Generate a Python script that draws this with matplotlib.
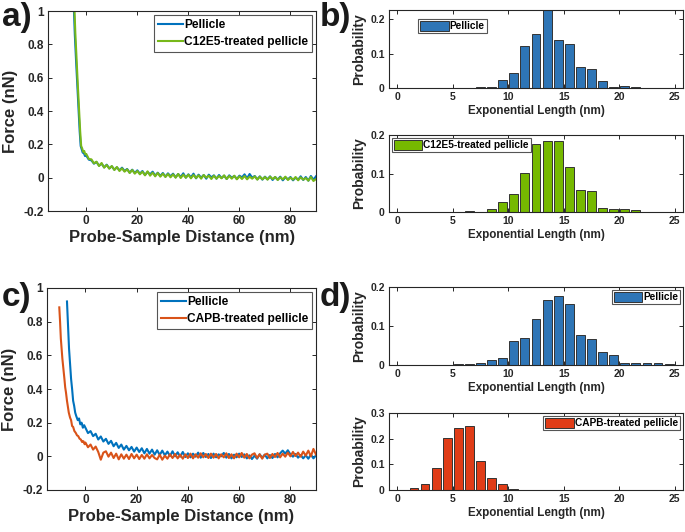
import numpy as np
import matplotlib
matplotlib.use('Agg')
import matplotlib.pyplot as plt

plt.rcParams['font.family'] = ['Liberation Sans', 'DejaVu Sans']
plt.rcParams['font.weight'] = 'bold'

# ---- force curves, panel a ----
xa_steep = [-4.9, -4.5, -4.0, -3.5, -3.0, -2.6, -2.2, -1.8, -1.4, -1.0, -0.5]
ya_pel_steep = [1.03, 0.86, 0.70, 0.55, 0.40, 0.28, 0.19, 0.17, 0.15, 0.15, 0.13]
xg_steep = [-4.7, -4.3, -3.8, -3.3, -2.8, -2.4, -2.0, -1.6, -1.2, -0.8, -0.4]
ya_c12_steep = [1.04, 0.87, 0.71, 0.55, 0.40, 0.28, 0.19, 0.175, 0.155, 0.16, 0.14]
x_flat = np.arange(0, 91)
ya_pel = [0.132, 0.108, 0.104, 0.084, 0.094, 0.072, 0.084, 0.062, 0.078, 0.056,
          0.068, 0.048, 0.062, 0.044, 0.060, 0.040, 0.052, 0.030, 0.048, 0.028,
          0.044, 0.024, 0.040, 0.016, 0.034, 0.020, 0.036, 0.012, 0.030, 0.010,
          0.028, 0.006, 0.026, 0.008, 0.024, 0.002, 0.022, 0.004, 0.026, 0.000,
          0.020, 0.002, 0.024, -0.004, 0.018, 0.000, 0.016, -0.006, 0.018, 0.002,
          0.014, -0.006, 0.016, -0.002, 0.012, -0.008, 0.014, 0.000, 0.010, -0.008,
          0.012, 0.002, 0.020, -0.004, 0.022, 0.000, 0.010, -0.010, 0.008, -0.012,
          0.006, -0.010, 0.008, -0.014, 0.004, -0.012, 0.006, -0.016, 0.002, -0.010,
          0.004, -0.016, 0.000, -0.012, 0.008, -0.014, 0.004, -0.018, 0.010, -0.012,
          0.008]
ya_c12 = [0.142, 0.112, 0.110, 0.086, 0.096, 0.070, 0.088, 0.060, 0.076, 0.054,
          0.070, 0.046, 0.064, 0.040, 0.056, 0.036, 0.050, 0.028, 0.046, 0.024,
          0.040, 0.020, 0.036, 0.014, 0.038, 0.012, 0.030, 0.008, 0.028, 0.006,
          0.024, 0.004, 0.022, 0.002, 0.020, 0.000, 0.022, -0.002, 0.018, 0.000,
          0.018, -0.004, 0.016, -0.002, 0.014, -0.006, 0.016, 0.000, 0.012, -0.008,
          0.012, -0.006, 0.010, -0.004, 0.014, -0.008, 0.010, -0.006, 0.012, -0.010,
          0.008, -0.008, 0.010, -0.010, 0.006, -0.006, 0.008, -0.012, 0.006, -0.010,
          0.004, -0.012, 0.006, -0.008, 0.004, -0.014, 0.002, -0.010, 0.006, -0.014,
          0.000, -0.012, 0.004, -0.016, 0.002, -0.012, -0.002, -0.018, 0.004, -0.020,
          -0.008]

# ---- force curves, panel c ----
xc_pel_steep = [-7.2, -6.8, -6.4, -6.0, -5.6, -5.2, -4.8, -4.4, -4.0, -3.6,
                -3.0, -2.5, -2.0, -1.5, -1.0, -0.5]
yc_pel_steep = [0.92, 0.78, 0.64, 0.55, 0.46, 0.40, 0.33, 0.30, 0.26, 0.24,
                0.215, 0.225, 0.19, 0.20, 0.17, 0.185]
yc_pel = [0.170, 0.138, 0.150, 0.120, 0.134, 0.100, 0.118, 0.088, 0.104, 0.074,
          0.092, 0.060, 0.080, 0.050, 0.070, 0.040, 0.062, 0.036, 0.056, 0.028,
          0.052, 0.026, 0.048, 0.018, 0.044, 0.016, 0.040, 0.010, 0.036, 0.008,
          0.034, 0.006, 0.028, 0.002, 0.030, 0.000, 0.024, -0.002, 0.026, -0.004,
          0.018, -0.006, 0.016, -0.002, 0.022, -0.008, 0.020, -0.004, 0.014, -0.010,
          0.016, -0.006, 0.012, 0.000, 0.020, -0.008, 0.014, -0.012, 0.010, -0.006,
          0.016, -0.004, 0.012, -0.012, 0.006, -0.016, 0.004, -0.014, 0.012, -0.008,
          0.010, -0.012, 0.008, -0.010, 0.014, -0.006, 0.018, 0.034, 0.016, 0.036,
          0.012, -0.002, 0.014, -0.008, 0.008, -0.012, 0.006, -0.014, 0.010, -0.012,
          0.006]
xc_capb_steep = [-10.2, -9.9, -9.6, -9.3, -9.0, -8.6, -8.2, -7.9, -7.6, -7.2,
                 -6.9, -6.5, -6.0, -5.6, -5.2, -4.8, -4.3, -3.8, -3.3, -2.8,
                 -2.3, -1.8, -1.3, -0.8, -0.3]
yc_capb_steep = [0.885, 0.80, 0.70, 0.64, 0.58, 0.52, 0.46, 0.41, 0.38, 0.33,
                 0.30, 0.26, 0.23, 0.215, 0.18, 0.175, 0.15, 0.14, 0.125, 0.12,
                 0.105, 0.10, 0.085, 0.09, 0.072]
yc_capb = [0.082, 0.054, 0.070, 0.040, 0.058, 0.026, -0.020, 0.022, 0.030, -0.002,
           0.022, -0.010, 0.016, -0.018, 0.012, -0.014, 0.010, -0.016, 0.014, -0.012,
           0.010, -0.016, 0.008, -0.014, 0.012, -0.012, 0.008, -0.010, -0.018, 0.010,
           -0.020, 0.004, -0.014, 0.012, -0.010, 0.014, -0.012, 0.010, -0.014, 0.012,
           -0.010, 0.016, -0.012, 0.012, -0.008, 0.018, -0.006, 0.014, -0.010, 0.016,
           -0.008, 0.014, -0.012, 0.012, -0.006, 0.018, -0.010, 0.012, -0.012, 0.016,
           -0.006, 0.020, -0.008, 0.014, -0.012, 0.010, 0.018, -0.010, 0.012, -0.014,
           0.010, 0.016, -0.010, 0.014, -0.004, 0.020, -0.006, 0.016, -0.002, 0.022,
           0.000, 0.026, 0.002, 0.022, -0.002, 0.028, 0.004, 0.034, 0.000, 0.044,
           0.010]

# ---- histograms ----
b_pel_x = [7.5, 8.5, 9.5, 10.5, 11.5, 12.5, 13.5, 14.5, 15.5, 16.5, 17.5,
           18.5, 19.5, 20.5, 21.5]
b_pel_p = [0.003, 0.003, 0.023, 0.0425, 0.121, 0.157, 0.227, 0.140, 0.129,
           0.061, 0.054, 0.019, 0.003, 0.007, 0.003]
b_c12_x = [6.5, 8.5, 9.5, 10.5, 11.5, 12.5, 13.5, 14.5, 15.5, 16.5, 17.5,
           18.5, 19.5, 20.5, 21.5]
b_c12_p = [0.003, 0.008, 0.027, 0.046, 0.102, 0.177, 0.185, 0.185, 0.118,
           0.058, 0.055, 0.010, 0.008, 0.008, 0.004]
d_pel_x = [5.5, 6.5, 7.5, 8.5, 9.5, 10.5, 11.5, 12.5, 13.5, 14.5, 15.5, 16.5,
           17.5, 18.5, 19.5, 20.5, 21.5, 22.5, 23.5, 24.5]
d_pel_p = [0.002, 0.002, 0.004, 0.013, 0.018, 0.061, 0.070, 0.117, 0.167,
           0.176, 0.156, 0.078, 0.066, 0.033, 0.025, 0.005, 0.004, 0.004,
           0.004, 0.002]
d_capb_x = [1.5, 2.5, 3.5, 4.5, 5.5, 6.5, 7.5, 8.5, 9.5, 10.5]
d_capb_p = [0.008, 0.023, 0.084, 0.204, 0.240, 0.249, 0.114, 0.048, 0.023, 0.005]

c_blue = '#0072BD'
c_green = '#77B81A'
c_orange = '#D95319'
bar_blue = '#2E75B6'
bar_green = '#76B900'
bar_red = '#E03C17'
ax_col = '#262626'

fig = plt.figure(figsize=(6.85, 5.32), dpi=100)
W, H = 685.0, 532.0


def add_ax(left, top, right, bottom):
    return fig.add_axes([left / W, 1 - bottom / H, (right - left) / W, (bottom - top) / H])


def style(ax, fs):
    ax.tick_params(direction='in', top=True, right=True, length=3, width=0.7,
                   labelsize=fs, colors=ax_col, pad=3)
    for s in ax.spines.values():
        s.set_color(ax_col)
        s.set_linewidth(0.8)
    for lab in ax.get_xticklabels() + ax.get_yticklabels():
        lab.set_fontweight('bold')


def frame_legend(leg):
    leg.get_frame().set_edgecolor('#555555')
    leg.get_frame().set_linewidth(0.8)
    for t in leg.get_texts():
        t.set_fontweight('bold')


def force_panel(ax, curves, labels):
    for xs, ys, col in curves:
        ax.plot(xs, ys, color=col, lw=1.5)
    ax.set_xlim(-15, 90)
    ax.set_ylim(-0.2, 1)
    ax.set_xticks([0, 20, 40, 60, 80])
    ax.set_yticks([-0.2, 0, 0.2, 0.4, 0.6, 0.8, 1])
    ax.set_yticklabels(['-0.2', '0', '0.2', '0.4', '0.6', '0.8', '1'])
    ax.set_xlabel('Probe-Sample Distance (nm)', fontsize=12, fontweight='bold',
                  color=ax_col, labelpad=2)
    ax.set_ylabel('Force (nN)', fontsize=12, fontweight='bold', color=ax_col,
                  labelpad=4)
    style(ax, 8.5)
    leg = ax.legend(labels, loc='upper right', fontsize=8.6, handlelength=2.1,
                    handletextpad=0.1, borderpad=0.35, labelspacing=0.45,
                    fancybox=False, framealpha=1, borderaxespad=0.3)
    frame_legend(leg)


def hist_panel(ax, xs, ps, col, label, ytop, yticks, loc, anchor=None):
    ax.bar(xs, ps, width=0.8, color=col, edgecolor='#333333', linewidth=0.7,
           label=label)
    ax.set_xlim(-0.75, 25.75)
    ax.set_ylim(0, ytop)
    ax.set_xticks([0, 5, 10, 15, 20, 25])
    ax.set_yticks(yticks)
    ax.set_yticklabels(['0'] + ['%g' % v for v in yticks[1:]])
    ax.set_xlabel('Exponential Length (nm)', fontsize=8.4, fontweight='bold',
                  color=ax_col, labelpad=2)
    ax.set_ylabel('Probability', fontsize=10, fontweight='bold', color=ax_col,
                  labelpad=3)
    style(ax, 7.5)
    kw = dict(fontsize=7.3, handlelength=2.8, handleheight=1.1,
              handletextpad=0.1, borderpad=0.2, fancybox=False, framealpha=1)
    if anchor is None:
        leg = ax.legend(loc=loc, borderaxespad=0.3, **kw)
    else:
        leg = ax.legend(loc=loc, bbox_to_anchor=anchor, borderaxespad=0, **kw)
    frame_legend(leg)


# panel a
ax_a = add_ax(48, 11, 316, 211)
force_panel(ax_a,
            [(np.concatenate([xa_steep, x_flat]), ya_pel_steep + ya_pel, c_blue),
             (np.concatenate([xg_steep, x_flat]), ya_c12_steep + ya_c12, c_green)],
            ['Pellicle', 'C12E5-treated pellicle'])

# panel c
ax_c = add_ax(47, 288, 316, 490)
force_panel(ax_c,
            [(np.concatenate([xc_pel_steep, x_flat]), yc_pel_steep + yc_pel, c_blue),
             (np.concatenate([xc_capb_steep, x_flat]), yc_capb_steep + yc_capb, c_orange)],
            ['Pellicle', 'CAPB-treated pellicle'])

# panel b
ax_b1 = add_ax(389, 10, 683, 88)
hist_panel(ax_b1, b_pel_x, b_pel_p, bar_blue, 'Pellicle', 0.227, [0, 0.1, 0.2],
           'upper left', anchor=(0.099, 0.885))
ax_b2 = add_ax(389, 135, 683, 212)
hist_panel(ax_b2, b_c12_x, b_c12_p, bar_green, 'C12E5-treated pellicle', 0.2,
           [0, 0.1, 0.2], 'upper left')

# panel d
ax_d1 = add_ax(389, 287, 683, 365)
hist_panel(ax_d1, d_pel_x, d_pel_p, bar_blue, 'Pellicle', 0.2, [0, 0.1, 0.2],
           'upper right')
ax_d2 = add_ax(389, 413, 683, 490)
hist_panel(ax_d2, d_capb_x, d_capb_p, bar_red, 'CAPB-treated pellicle', 0.3,
           [0, 0.1, 0.2, 0.3], 'upper right')

# panel letters
for lab, px, py in [('a)', 2, 2), ('b)', 320, 2), ('c)', 2, 282), ('d)', 320, 282)]:
    fig.text(px / W, 1 - py / H, lab, fontsize=24, fontweight='bold',
             color='#1a1a1a', ha='left', va='top')

fig.savefig('out.png', dpi=100)
